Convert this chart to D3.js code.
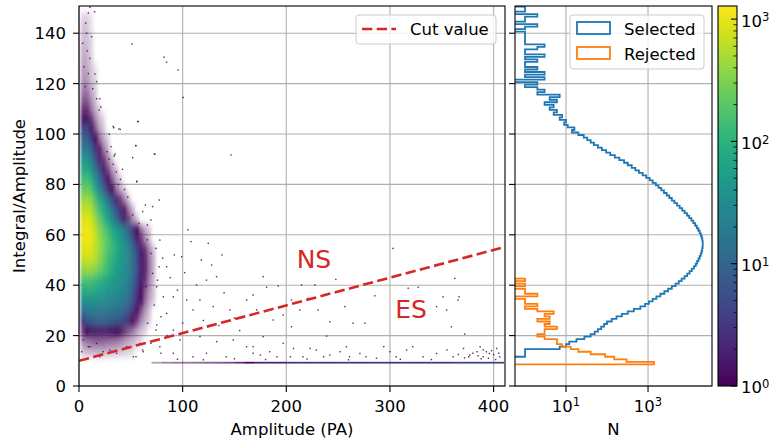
<!DOCTYPE html>
<html>
<head>
<meta charset="utf-8">
<script src="https://cdn.jsdelivr.net/npm/d3@7"></script>
<style>
  body { margin: 0; background: #fff; }
  svg text { font-family: "DejaVu Sans", sans-serif; fill: #000; }
</style>
</head>
<body>
<div id="chart"></div>
<script>
// ---------------- data ----------------
const ampTicks = [0, 100, 200, 300, 400];
const ratioTicks = [0, 20, 40, 60, 80, 100, 120, 140];
const nTicks = [10, 1000];
const cbTicks = [1, 10, 100, 1000];

// 2D histogram: mean counts per bin read from the colour (below 1 = sparse speckle),
// columns start at densityX0 and are 4 PA wide, rows are 4 units tall
const densityX0 = 1.5, densityDX = 4, densityDY = 4;
const densityY = [144, 140, 136, 132, 128, 124, 120, 116, 112, 108, 104, 100, 96, 92, 88, 84, 80, 76, 72,
                  68, 64, 60, 56, 52, 48, 44, 40, 36, 32, 28, 24, 20, 16, 12];
const densityCounts = [
  [0.03, 0.03, 0.01],
  [0.05, 0.04, 0.01],
  [0.06, 0.05, 0.02],
  [0.08, 0.06, 0.02],
  [0.1, 0.08, 0.03],
  [0.12, 0.1, 0.04, 0.01],
  [0.15, 0.14, 0.05, 0.02],
  [0.22, 0.22, 0.09, 0.03],
  [0.35, 0.35, 0.15, 0.05],
  [0.6, 0.6, 0.25, 0.08, 0.02],
  [1.5, 1.5, 0.6, 0.2, 0.06, 0.02],
  [4, 5, 1.5, 0.4, 0.12, 0.04],
  [9, 10, 4, 1, 0.3, 0.1, 0.03],
  [18, 20, 10, 3, 0.8, 0.25, 0.08],
  [36, 40, 20, 6, 2, 0.6, 0.2, 0.06],
  [65, 75, 45, 15, 5, 1.5, 0.5, 0.15, 0.05],
  [130, 150, 95, 35, 12, 4, 1.2, 0.4, 0.12, 0.04],
  [220, 260, 180, 70, 25, 9, 3, 1, 0.3, 0.1, 0.04],
  [400, 460, 350, 170, 80, 35, 15, 6, 2, 0.6, 0.2, 0.06],
  [600, 700, 540, 290, 140, 75, 38, 18, 7, 2.5, 0.8, 0.25, 0.08],
  [820, 950, 800, 430, 230, 120, 70, 35, 15, 5, 2, 0.6, 0.2, 0.06],
  [950, 1100, 950, 620, 370, 220, 140, 85, 55, 35, 20, 8, 3, 1, 0.3, 0.1, 0.04],
  [950, 1100, 1000, 700, 450, 280, 180, 120, 80, 52, 32, 16, 6, 2, 0.6, 0.2, 0.06],
  [820, 950, 880, 650, 440, 290, 190, 130, 90, 62, 42, 26, 12, 5, 1.8, 0.6, 0.2, 0.06],
  [600, 700, 680, 540, 360, 235, 150, 100, 70, 50, 38, 26, 13, 6, 2, 0.7, 0.25, 0.08],
  [360, 420, 400, 330, 245, 170, 120, 85, 62, 48, 36, 24, 13, 6, 2, 0.7, 0.25, 0.08],
  [150, 170, 160, 130, 100, 80, 65, 55, 46, 38, 30, 20, 11, 5, 1.8, 0.6, 0.2, 0.06],
  [75, 90, 85, 75, 60, 50, 44, 40, 35, 30, 24, 15, 8, 3.5, 1.2, 0.4, 0.15, 0.05],
  [32, 40, 40, 36, 32, 30, 28, 26, 24, 21, 17, 11, 6, 2.5, 0.9, 0.3, 0.1, 0.04],
  [12, 18, 20, 20, 19, 18, 17, 16, 15, 13, 10, 6, 3, 1.2, 0.4, 0.15, 0.05],
  [3, 6, 8, 9, 9, 9, 9, 8, 7, 6, 4, 2.5, 1.2, 0.5, 0.2, 0.08, 0.03],
  [0.6, 1, 1.4, 1.6, 1.6, 1.6, 1.5, 1.3, 1.1, 0.9, 0.6, 0.4, 0.25, 0.12, 0.05, 0.03],
  [0.2, 0.25, 0.3, 0.35, 0.35, 0.35, 0.3, 0.28, 0.25, 0.2, 0.15, 0.1, 0.07, 0.04, 0.02],
  [0.06, 0.08, 0.1, 0.1, 0.1, 0.1, 0.08, 0.07, 0.07, 0.05, 0.04, 0.03, 0.02]
];

// saturated band near Integral/Amplitude ~ 9.2 (10 PA wide bins, mean counts per bin)
const bandAmp = [70, 80, 90, 100, 110, 120, 130, 140, 150, 160, 170, 180, 190, 200, 210, 220, 230, 240,
                 250, 260, 270, 280, 290, 300, 310, 320, 330, 340, 350, 360, 370, 380, 390, 400];
const bandCounts = [0.15, 0.25, 0.3, 0.3, 0.35, 0.4, 0.45, 0.5, 0.7, 1, 2, 2, 2, 3, 3, 3, 3, 3,
                    3, 3, 3, 3, 3, 3, 3, 3, 3, 3, 3, 4, 4, 4, 4, 4];
const bandRatio = [8.9, 9.6];

// isolated events [amplitude, integral/amplitude]
const outliers = [
  [10.6,150.3],[9,148],[15,148.5],[6.5,144],[51,135.7],[82,130.5],[84.5,128.5],[95.5,125.4],[100.5,114.5],
  [17,114],[57,105],[33,103],[38.5,102],[54.7,95.4],[51.8,90.6],[72.7,92],[146.6,91.7],[55.6,81],[27,93],
  [31,95],[34.7,92],[7.4,140],[12.2,138.6],[3.5,136],[8,133],[10.6,130],[4.8,126.7],[9,124],[15.4,123.8],
  [17,120.8],[5.8,118.8],[13.2,118],[20,114],[20.9,110.7],[19.3,109.5],
  [56.6,104.9],[33.5,102.5],[39.8,101.8],[29.2,99.9],[55,95.4],[73.3,92],[34,91.3],[56,81.3],[64,71.8],
  [71,71.2],[77.4,73.8],[61.4,69.2],[69.4,65.9],[66,63.9],[51.8,67.9],[58,64.5],
  [36,85],[40,82],[33,88],[44,78],[47,75],[38,80],[29,90],[42,86],
  [66,58],[74.3,54.6],[69.4,52.6],[80.7,50.7],[77.4,47.3],[71,44.7],[75.8,42],[64.6,39.4],[81.4,35.4],
  [72.6,32.1],[79,27.5],[66.2,24.9],[74.3,22.2],[69.4,16.9],[61.4,14.3],[79,13],[55,11.6],
  [78,57.9],[108,57.3],[124.7,56.6],[99,51.3],[84.6,47.3],[74.9,39.4],[113.5,40.1],[123,42],[132.7,43.4],
  [91,35.4],[103.9,34.1],[116.7,34.1],[129.5,31.5],[110,30.2],[84.6,28.8],[145.6,30.2],[161.7,34.1],
  [168,36.1],[75,24.2],[91,22.2],[97.4,18.3],[116.7,19.6],[132.8,17.6],[148.8,18.3],[161.7,15.6],[78,15.6],
  [62,13.6],[91,13],[110,11.6],[123,13],[142,11.6],[168,13],[58.8,16.9],[46,15.6],[36.4,13],[20.2,11.6],
  [29.9,14.3],[10.6,15.6],[52.4,11.6],[4.2,18.3],[9,15.6],[17,16.9],[2.6,13.6],[23.4,13.6],
  [88,43],[95,38],[102,45],[120,26],[135,24],[150,27],[140,37],[155,22],[100,25],[85,20],[128,48],
  [138,52],[92,52],[105,62],[118,50],
  [303,54.6],[177.7,43.4],[247.8,42.3],[362.6,42.7],[317.6,38.8],[327.2,39.2],[285.4,35.8],[351.3,35.4],
  [366.7,35.4],[365.7,34.1],[256.5,31.5],[345,31.5],[354.6,30.2],[275.8,24.9],[359.3,23.5],[372.2,20.6],
  [238.9,19.8],[181,39.2],[192.2,39.7],[205,34.1],[214.7,40.1],[227.5,40.1],[221,34.8],[230.7,30.2],
  [213,30.2],[197,28.2],[205,23.5],[187.4,26.2],[171.4,30.2],[242,25.5],[264.5,24.9],[177.7,19.6],
  [168,15.6],[184,13.6],[197,16.9],[207,14.9],[216,11.6],[229,14.3],[242,12.3],[258,15.6],[271,12.9],
  [287,11.0],[294,15.6],[306,11.6],[316,14.3],[322,15.6],[332,11.6],[345,12.9],[355,14.3],[361,11.6],
  [371,14.9],[377,12.3],[384,13.6],[390,14.3],[396,12.9],[403,14.9],[406,11.6],[390,11.6],[387,15.6],
  [393,13.6],[376,11.6],[300,13.6],[277,11.6],[261,11.6],[252,13.6],[236,11.6],[223,14.9],[204,11.6],
  [191,11.6],[175,12.3],[380,13],[385,12],[395,11],[400,12.5],[398,14],[405,13],[372,11.2],[366,12.5],
  [388,10.8],[402,10.5],[180,10.5],[220,10.7],[260,10.4],[310,10.6],[340,10.5],[150,10.8],[120,10.4],[95,10.6]
];

// cut value line end points
const cutAmp = [0, 411];
const cutRatio = [10, 55.2];

const regionLabels = ["NS", "ES"];
const regionAmp = [210, 305];
const regionRatio = [47, 27];

// side histograms, 1-unit bins starting at histStart
const histStart = -0.4, histWidth = 1;
const selectedCounts = [
  0,0,0,0,0,0,0,0,0,0,0,0,1,1,1,7,10,12,18,28,
  40,50,60,72,85,100,130,170,230,320,450,650,850,1050,1300,1600,2000,2500,3100,3800,
  4700,5600,6600,7800,9000,10300,11700,13200,14600,15800,17000,18200,19300,20200,20900,21400,21600,21500,21100,20400,
  19400,18200,16900,15500,14100,12700,11400,10100,8900,7800,6800,5900,5100,4400,3800,3300,2850,2450,2100,1800,
  1550,1300,1100,900,740,600,490,400,320,260,200,155,120,95,75,60,48,40,33,27,
  20,14,16,11,9,10,7,8,5,6,4,5,3,6,4,7,2,3,2,1,
  2,0,3,1,3,1,2,1,1,2,1,3,1,1,2,3,1,1,1,1,
  1,0,1,2,0,1,1,2,0,1,1
];
const rejectedCounts = [
  0,0,0,0,0,0,0,0,0,1400,300,150,90,40,20,13,8,6,6,3,
  2,3,3,6,3,4,2,4,3,5,2,1,2,1,1,0,2,1,1,0,
  1,0,1
];

// ---------------- layout ----------------
const W = 769, H = 443;
const main = {x0: 79, x1: 505, y0: 6, y1: 386};
const side = {x0: 515, x1: 712};
const cb = {x0: 718, x1: 737};
const fs = 16.5;
const red = "#d62728", blue = "#1f77b4", orange = "#ff7f0e", gridC = "#b0b0b0";

const svg = d3.select("#chart").append("svg")
  .attr("width", W).attr("height", H);

const x = d3.scaleLinear().domain([0, 411]).range([main.x0, main.x1]);
const y = d3.scaleLinear().domain([0, 150.8]).range([main.y1, main.y0]);
const xN = d3.scaleLog().domain([0.57, 36300]).range([side.x0, side.x1]);
const color = d3.scaleSequentialLog(d3.interpolateViridis).domain([1, 1280]);
const yCb = d3.scaleLog().domain([1, 1280]).range([main.y1, main.y0]);

const defs = svg.append("defs");
defs.append("clipPath").attr("id", "clipMain").append("rect")
  .attr("x", main.x0).attr("y", main.y0).attr("width", main.x1 - main.x0).attr("height", main.y1 - main.y0);
defs.append("clipPath").attr("id", "clipSide").append("rect")
  .attr("x", side.x0).attr("y", main.y0).attr("width", side.x1 - side.x0).attr("height", main.y1 - main.y0);
defs.append("filter").attr("id", "soft").attr("x", "-20%").attr("y", "-20%").attr("width", "140%").attr("height", "140%")
  .append("feGaussianBlur").attr("stdDeviation", "1.8 3.6");

// ---- main panel ----
const gMain = svg.append("g");
// grid
gMain.selectAll(".gx").data(ampTicks).join("line")
  .attr("x1", d => x(d)).attr("x2", d => x(d)).attr("y1", main.y0).attr("y2", main.y1)
  .attr("stroke", gridC).attr("stroke-width", 1.1);
gMain.selectAll(".gy").data(ratioTicks).join("line").attr("class", "gy")
  .attr("x1", main.x0).attr("x2", main.x1).attr("y1", d => y(d)).attr("y2", d => y(d))
  .attr("stroke", gridC).attr("stroke-width", 1.1);

const plot = gMain.append("g").attr("clip-path", "url(#clipMain)");

// 2D histogram cells (sparse bins drawn as faint speckle)
const cells = [];
densityY.forEach((y0, r) => densityCounts[r].forEach((c, i) => {
  if (c > 0) cells.push({a: densityX0 + i * densityDX, r: y0, c: c});
}));
plot.append("g").attr("filter", "url(#soft)")
  .selectAll("rect").data(cells).join("rect")
  .attr("x", d => x(d.a)).attr("y", d => y(d.r + densityDY))
  .attr("width", x(densityDX) - x(0) + 0.4).attr("height", y(0) - y(densityDY) + 0.4)
  .attr("fill", d => color(Math.max(1, d.c)))
  .attr("fill-opacity", d => Math.min(1, Math.sqrt(d.c)));

// band of saturated events
plot.append("g").selectAll("rect").data(bandAmp).join("rect")
  .attr("x", d => x(d)).attr("y", y(bandRatio[1]))
  .attr("width", x(10) - x(0) + 0.2).attr("height", y(bandRatio[0]) - y(bandRatio[1]))
  .attr("fill", (d, i) => color(Math.max(1, bandCounts[i])))
  .attr("fill-opacity", (d, i) => Math.min(1, Math.sqrt(bandCounts[i])));

// isolated events
plot.append("g").selectAll("rect").data(outliers).join("rect")
  .attr("x", d => x(d[0]) - 0.7).attr("y", d => y(d[1]) - 0.7)
  .attr("width", 1.4).attr("height", 1.4)
  .attr("fill", color(1)).attr("opacity", 0.85);

// cut line
plot.append("line")
  .attr("x1", x(cutAmp[0])).attr("y1", y(cutRatio[0]))
  .attr("x2", x(cutAmp[1])).attr("y2", y(cutRatio[1]))
  .attr("stroke", red).attr("stroke-width", 2.6).attr("stroke-dasharray", "10.3,4.4");

// NS / ES labels
gMain.selectAll(".region").data(regionLabels).join("text")
  .attr("x", (d, i) => x(regionAmp[i])).attr("y", (d, i) => y(regionRatio[i]))
  .style("fill", red).style("font-size", "25px").text(d => d);

// spine
gMain.append("rect").attr("x", main.x0).attr("y", main.y0)
  .attr("width", main.x1 - main.x0).attr("height", main.y1 - main.y0)
  .attr("fill", "none").attr("stroke", "#000").attr("stroke-width", 1.1);

// ticks
gMain.selectAll(".tx").data(ampTicks).join("line")
  .attr("x1", d => x(d)).attr("x2", d => x(d)).attr("y1", main.y1).attr("y2", main.y1 + 6)
  .attr("stroke", "#000").attr("stroke-width", 1.1);
gMain.selectAll(".tl").data(ampTicks).join("text")
  .attr("x", d => x(d)).attr("y", 411.5).attr("text-anchor", "middle")
  .style("font-size", fs + "px").text(d => d);
gMain.selectAll(".ty").data(ratioTicks).join("line")
  .attr("x1", main.x0 - 6).attr("x2", main.x0).attr("y1", d => y(d)).attr("y2", d => y(d))
  .attr("stroke", "#000").attr("stroke-width", 1.1);
gMain.selectAll(".tyl").data(ratioTicks).join("text")
  .attr("x", 66).attr("y", d => y(d)).attr("dy", "0.36em").attr("text-anchor", "end")
  .style("font-size", fs + "px").text(d => d);

gMain.append("text").attr("x", (main.x0 + main.x1) / 2).attr("y", 435)
  .attr("text-anchor", "middle").style("font-size", fs + "px").text("Amplitude (PA)");
gMain.append("text").attr("transform", `translate(25,${(main.y0 + main.y1) / 2}) rotate(-90)`)
  .attr("text-anchor", "middle").style("font-size", fs + "px").text("Integral/Amplitude");

// legend (main)
const lg = gMain.append("g");
lg.append("rect").attr("x", 356).attr("y", 15).attr("width", 140).attr("height", 29).attr("rx", 3)
  .attr("fill", "#fff").attr("fill-opacity", 0.8).attr("stroke", "#cccccc").attr("stroke-width", 1);
lg.append("line").attr("x1", 362).attr("x2", 396).attr("y1", 29).attr("y2", 29)
  .attr("stroke", red).attr("stroke-width", 2.6).attr("stroke-dasharray", "10.3,4.4");
lg.append("text").attr("x", 410).attr("y", 35).style("font-size", fs + "px").text("Cut value");

// ---- side histogram ----
const gSide = svg.append("g");
gSide.selectAll(".sgx").data(nTicks).join("line")
  .attr("x1", d => xN(d)).attr("x2", d => xN(d)).attr("y1", main.y0).attr("y2", main.y1)
  .attr("stroke", gridC).attr("stroke-width", 1.1);
gSide.selectAll(".sgy").data(ratioTicks).join("line").attr("class", "sgy")
  .attr("x1", side.x0).attr("x2", side.x1).attr("y1", d => y(d)).attr("y2", d => y(d))
  .attr("stroke", gridC).attr("stroke-width", 1.1);

function stepPath(counts) {
  const left = side.x0 - 5;
  const nx = c => c > 0 ? xN(c) : left;
  const p = d3.path();
  p.moveTo(left, y(histStart));
  counts.forEach((c, i) => {
    const lo = histStart + i * histWidth, hi = lo + histWidth;
    p.lineTo(nx(c), y(lo));
    p.lineTo(nx(c), y(hi));
  });
  p.lineTo(left, y(histStart + counts.length * histWidth));
  return p.toString();
}
const sp = gSide.append("g").attr("clip-path", "url(#clipSide)");
sp.append("path").attr("d", stepPath(selectedCounts))
  .attr("fill", "none").attr("stroke", blue).attr("stroke-width", 1.8).attr("stroke-linejoin", "miter");
sp.append("path").attr("d", stepPath(rejectedCounts))
  .attr("fill", "none").attr("stroke", orange).attr("stroke-width", 1.8).attr("stroke-linejoin", "miter");

gSide.append("rect").attr("x", side.x0).attr("y", main.y0)
  .attr("width", side.x1 - side.x0).attr("height", main.y1 - main.y0)
  .attr("fill", "none").attr("stroke", "#000").attr("stroke-width", 1.1);
gSide.selectAll(".sty").data(ratioTicks).join("line")
  .attr("x1", side.x0 - 6).attr("x2", side.x0).attr("y1", d => y(d)).attr("y2", d => y(d))
  .attr("stroke", "#000").attr("stroke-width", 1.1);
gSide.selectAll(".stx").data(nTicks).join("line")
  .attr("x1", d => xN(d)).attr("x2", d => xN(d)).attr("y1", main.y1).attr("y2", main.y1 + 6)
  .attr("stroke", "#000").attr("stroke-width", 1.1);

function powLabel(sel, v) {
  sel.text("10");
  sel.append("tspan").attr("dy", "-0.45em").style("font-size", "0.7em").text(Math.round(Math.log10(v)));
}
gSide.selectAll(".stl").data(nTicks).join("text")
  .attr("x", d => xN(d)).attr("y", 411.5).attr("text-anchor", "middle")
  .style("font-size", fs + "px").each(function (d) { powLabel(d3.select(this), d); });
gSide.append("text").attr("x", (side.x0 + side.x1) / 2).attr("y", 435)
  .attr("text-anchor", "middle").style("font-size", fs + "px").text("N");

// legend (side)
const sl = gSide.append("g");
sl.append("rect").attr("x", 570).attr("y", 15).attr("width", 134).attr("height", 54).attr("rx", 3)
  .attr("fill", "#fff").attr("fill-opacity", 0.8).attr("stroke", "#cccccc").attr("stroke-width", 1);
[["Selected", blue], ["Rejected", orange]].forEach((e, i) => {
  sl.append("rect").attr("x", 577).attr("y", 22 + i * 25).attr("width", 33).attr("height", 12)
    .attr("fill", "none").attr("stroke", e[1]).attr("stroke-width", 1.8);
  sl.append("text").attr("x", 624).attr("y", 34.5 + i * 25).style("font-size", fs + "px").text(e[0]);
});

// ---- colorbar ----
const gCb = svg.append("g");
const grad = defs.append("linearGradient").attr("id", "cbGrad")
  .attr("x1", 0).attr("y1", 1).attr("x2", 0).attr("y2", 0);
d3.range(0, 1.0001, 0.02).forEach(t => {
  grad.append("stop").attr("offset", t).attr("stop-color", d3.interpolateViridis(t));
});
gCb.append("rect").attr("x", cb.x0).attr("y", yCb(1280))
  .attr("width", cb.x1 - cb.x0).attr("height", yCb(1) - yCb(1280))
  .attr("fill", "url(#cbGrad)").attr("stroke", "#000").attr("stroke-width", 1.1);
const minor = [];
[1, 10, 100].forEach(k => d3.range(2, 10).forEach(m => minor.push(m * k)));
gCb.selectAll(".cbm").data(minor).join("line")
  .attr("x1", cb.x1 - 3.5).attr("x2", cb.x1).attr("y1", d => yCb(d)).attr("y2", d => yCb(d))
  .attr("stroke", "#000").attr("stroke-width", 0.8);
gCb.selectAll(".cbt").data(cbTicks).join("line")
  .attr("x1", cb.x1 - 6).attr("x2", cb.x1).attr("y1", d => yCb(d)).attr("y2", d => yCb(d))
  .attr("stroke", "#000").attr("stroke-width", 1.1);
gCb.selectAll(".cbl").data(cbTicks).join("text")
  .attr("x", 741).attr("y", d => yCb(d)).attr("dy", "0.45em")
  .style("font-size", fs + "px").each(function (d) { powLabel(d3.select(this), d); });
</script>
</body>
</html>
